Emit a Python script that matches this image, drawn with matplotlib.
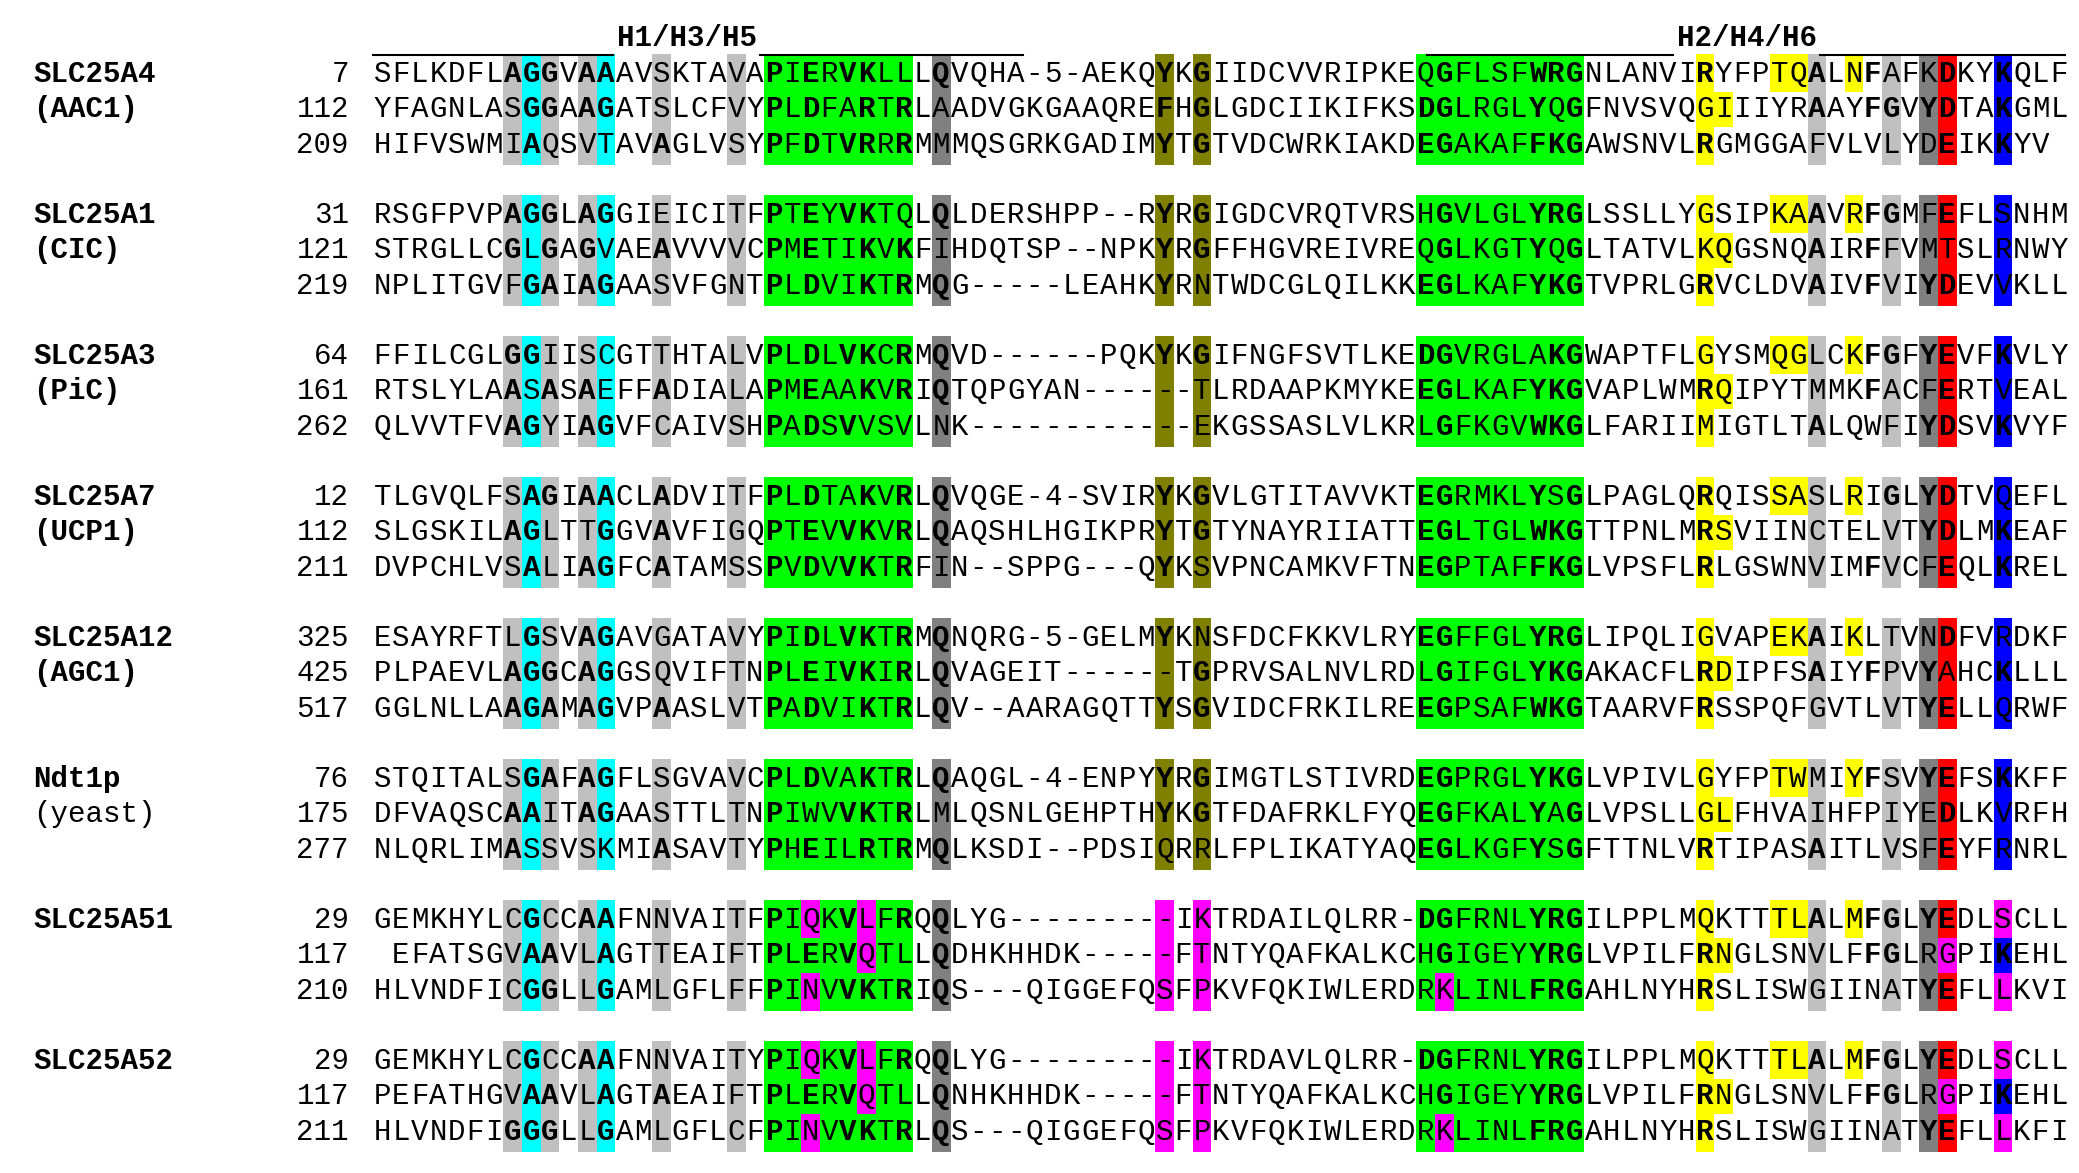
import matplotlib
matplotlib.use("Agg")
import matplotlib.pyplot as plt
from matplotlib.patches import Rectangle

# ---------------- data ----------------
group_names = ["SLC25A4", "SLC25A1", "SLC25A3", "SLC25A7", "SLC25A12", "Ndt1p", "SLC25A51", "SLC25A52"]
group_subnames = ["(AAC1)", "(CIC)", "(PiC)", "(UCP1)", "(AGC1)", "(yeast)", "", ""]

start_numbers = [
    [7, 112, 209], [31, 121, 219], [64, 161, 262], [12, 112, 211],
    [325, 425, 517], [76, 175, 277], [29, 117, 210], [29, 117, 211],
]

sequences = [
    ["SFLKDFLAGGVAAAVSKTAVAPIERVKLLLQVQHA-5-AEKQYKGIIDCVVRIPKEQGFLSFWRGNLANVIRYFPTQALNFAFKDKYKQLF",
     "YFAGNLASGGAAGATSLCFVYPLDFARTRLAADVGKGAAQREFHGLGDCIIKIFKSDGLRGLYQGFNVSVQGIIIYRAAYFGVYDTAKGML",
     "HIFVSWMIAQSVTAVAGLVSYPFDTVRRRMMMQSGRKGADIMYTGTVDCWRKIAKDEGAKAFFKGAWSNVLRGMGGAFVLVLYDEIKKYV"],
    ["RSGFPVPAGGLAGGIEICITFPTEYVKTQLQLDERSHPP--RYRGIGDCVRQTVRSHGVLGLYRGLSSLLYGSIPKAAVRFGMFEFLSNHM",
     "STRGLLCGLGAGVAEAVVVVCPMETIKVKFIHDQTSP--NPKYRGFFHGVREIVREQGLKGTYQGLTATVLKQGSNQAIRFFVMTSLRNWY",
     "NPLITGVFGAIAGAASVFGNTPLDVIKTRMQG-----LEAHKYRNTWDCGLQILKKEGLKAFYKGTVPRLGRVCLDVAIVFVIYDEVVKLL"],
    ["FFILCGLGGIISCGTTHTALVPLDLVKCRMQVD------PQKYKGIFNGFSVTLKEDGVRGLAKGWAPTFLGYSMQGLCKFGFYEVFKVLY",
     "RTSLYLAASASAEFFADIALAPMEAAKVRIQTQPGYAN------TLRDAAPKMYKEEGLKAFYKGVAPLWMRQIPYTMMKFACFERTVEAL",
     "QLVVTFVAGYIAGVFCAIVSHPADSVVSVLNK------------EKGSSASLVLKRLGFKGVWKGLFARIIMIGTLTALQWFIYDSVKVYF"],
    ["TLGVQLFSAGIAACLADVITFPLDTAKVRLQVQGE-4-SVIRYKGVLGTITAVVKTEGRMKLYSGLPAGLQRQISSASLRIGLYDTVQEFL",
     "SLGSKILAGLTTGGVAVFIGQPTEVVKVRLQAQSHLHGIKPRYTGTYNAYRIIATTEGLTGLWKGTTPNLMRSVIINCTELVTYDLMKEAF",
     "DVPCHLVSALIAGFCATAMSSPVDVVKTRFIN--SPPG---QYKSVPNCAMKVFTNEGPTAFFKGLVPSFLRLGSWNVIMFVCFEQLKREL"],
    ["ESAYRFTLGSVAGAVGATAVYPIDLVKTRMQNQRG-5-GELMYKNSFDCFKKVLRYEGFFGLYRGLIPQLIGVAPEKAIKLTVNDFVRDKF",
     "PLPAEVLAGGCAGGSQVIFTNPLEIVKIRLQVAGEIT------TGPRVSALNVLRDLGIFGLYKGAKACFLRDIPFSAIYFPVYAHCKLLL",
     "GGLNLLAAGAMAGVPAASLVTPADVIKTRLQV--AARAGQTTYSGVIDCFRKILREEGPSAFWKGTAARVFRSSPQFGVTLVTYELLQRWF"],
    ["STQITALSGAFAGFLSGVAVCPLDVAKTRLQAQGL-4-ENPYYRGIMGTLSTIVRDEGPRGLYKGLVPIVLGYFPTWMIYFSVYEFSKKFF",
     "DFVAQSCAAITAGAASTTLTNPIWVVKTRLMLQSNLGEHPTHYKGTFDAFRKLFYQEGFKALYAGLVPSLLGLFHVAIHFPIYEDLKVRFH",
     "NLQRLIMASSVSKMIASAVTYPHEILRTRMQLKSDI--PDSIQRRLFPLIKATYAQEGLKGFYSGFTTNLVRTIPASAITLVSFEYFRNRL"],
    ["GEMKHYLCGCCAAFNNVAITFPIQKVLFRQQLYG---------IKTRDAILQLRR-DGFRNLYRGILPPLMQKTTTLALMFGLYEDLSCLL",
     " EFATSGVAAVLAGTTEAIFTPLERVQTLLQDHKHHDK-----FTNTYQAFKALKCHGIGEYYRGLVPILFRNGLSNVLFFGLRGPIKEHL",
     "HLVNDFICGGLLGAMLGFLFFPINVVKTRIQS---QIGGEFQSFPKVFQKIWLERDRKLINLFRGAHLNYHRSLISWGIINATYEFLLKVI"],
    ["GEMKHYLCGCCAAFNNVAITYPIQKVLFRQQLYG---------IKTRDAVLQLRR-DGFRNLYRGILPPLMQKTTTLALMFGLYEDLSCLL",
     "PEFATHGVAAVLAGTAEAIFTPLERVQTLLQNHKHHDK-----FTNTYQAFKALKCHGIGEYYRGLVPILFRNGLSNVLFFGLRGPIKEHL",
     "HLVNDFIGGGLLGAMLGFLCFPINVVKTRLQS---QIGGEFQSFPKVFQKIWLERDRKLINLFRGAHLNYHRSLISWGIINATYEFLLKFI"],
]

# highlighted alignment columns (0-based)
gray_cols = [7, 9, 11, 15, 19, 77, 81]
cyan_cols = [8, 12]
green_cols = list(range(21, 29)) + list(range(56, 65))
dark_cols = [30, 83]
olive_cols = [42, 44]
red_cols = [84]
blue_cols = [87]
yellow_cols = [[71, 75, 76, 79], [71, 72], [71]]
# magenta cells for SLC25A51 / SLC25A52 (per row)
magenta_cols = [[23, 26, 42, 44, 87], [26, 42, 44, 84], [23, 42, 44, 57, 87]]
magenta_groups = [6, 7]

# conserved residues printed bold
bold_sets = {7: "AG", 8: "GA", 9: "GA", 11: "AG", 12: "AG", 15: "A",
             21: "P", 23: "DE", 25: "V", 26: "KR", 28: "RK", 30: "Q",
             42: "YF", 44: "G", 56: "ED", 57: "G", 62: "YWF", 63: "RK", 64: "G",
             71: "R", 77: "A", 80: "F", 81: "G", 83: "Y", 84: "DE", 87: "K"}

header_labels = ["H1/H3/H5", "H2/H4/H6"]

# ---------------- layout ----------------
W, H = 2079, 1173
fig = plt.figure(figsize=(W / 100, H / 100), dpi=100)
ax = fig.add_axes([0, 0, 1, 1])
ax.set_xlim(0, W)
ax.set_ylim(H, 0)
ax.axis("off")

X0 = 373.0
CW = 18.63
ROW0 = 74.0
RP = 35.3
GP = 141.0
mono = "Liberation Mono"
FS = 21

COL = {"gray": "#C0C0C0", "cyan": "#00FFFF", "green": "#00FF00", "dark": "#808080",
       "olive": "#808000", "red": "#FF0000", "blue": "#0000FF", "yellow": "#FFFF00",
       "magenta": "#FF00FF"}


def cell(col, row_y, color, r):
    top = row_y - RP / 2 - (2 if r == 0 else 0)
    h = RP + (2 if r == 0 else 0) + (3 if r == 2 else 0)
    ax.add_patch(Rectangle((X0 + col * CW, top), CW, h, facecolor=color, edgecolor="none", zorder=1))


for g in range(len(sequences)):
    gy = ROW0 + g * GP
    ax.text(33, gy, group_names[g], fontsize=FS, family=mono, weight="bold", va="center", ha="left")
    if group_subnames[g]:
        ax.text(33, gy + RP, group_subnames[g], fontsize=FS, family=mono,
                weight="normal" if group_subnames[g] == "(yeast)" else "bold", va="center", ha="left")
    for r in range(3):
        y = gy + r * RP
        seq = sequences[g][r]
        ax.text(349, y, str(start_numbers[g][r]), fontsize=FS, family=mono, va="center", ha="right")
        bands = [(gray_cols, "gray"), (cyan_cols, "cyan"), (green_cols, "green"), (dark_cols, "dark"),
                 (red_cols, "red"), (blue_cols, "blue")]
        if g not in magenta_groups:
            bands.append((olive_cols, "olive"))
        for cols, name in bands:
            for c in cols:
                cell(c, y, COL[name], r)
        for c in yellow_cols[r]:
            cell(c, y, COL["yellow"], r)
        if g in magenta_groups:
            for c in magenta_cols[r]:
                cell(c, y, COL["magenta"], r)
        for i, ch in enumerate(seq):
            if ch == " ":
                continue
            bold = i in bold_sets and ch in bold_sets[i]
            ax.text(X0 + (i + 0.5) * CW, y, ch, fontsize=FS, family=mono,
                    weight="bold" if bold else "normal", va="center", ha="center", zorder=3)

# headers
ax.text(687, 38, header_labels[0], fontsize=FS, family=mono, weight="bold", va="center", ha="center")
ax.text(1747, 38, header_labels[1], fontsize=FS, family=mono, weight="bold", va="center", ha="center")
for x1, x2 in [(373, 613), (760, 1023), (1427, 1673), (1820, 2065)]:
    ax.plot([x1, x2], [55, 55], color="black", lw=1.5)

fig.savefig("out.png", dpi=100)
